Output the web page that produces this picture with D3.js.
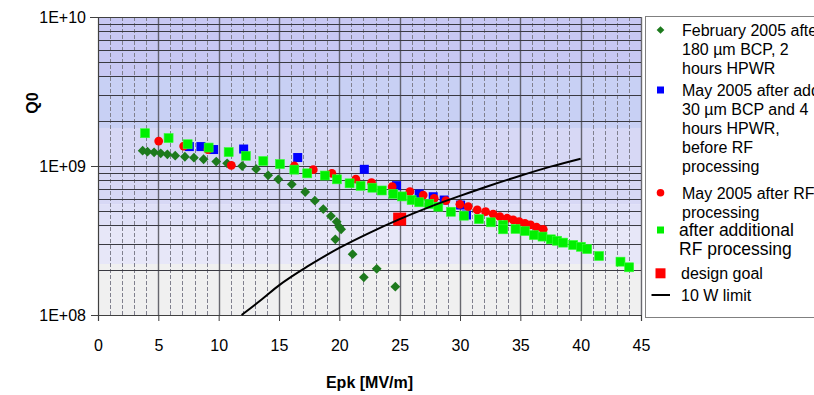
<!DOCTYPE html>
<html><head><meta charset="utf-8">
<script src="https://cdn.jsdelivr.net/npm/d3@7"></script>
<style>
html,body{margin:0;padding:0;background:#fff;}
svg{display:block;font-family:"Liberation Sans",Arial,sans-serif;}
</style></head>
<body>
<svg id="chart" width="814" height="395"></svg>
<script>
// ---------- data ----------
const xTicks = [0,5,10,15,20,25,30,35,40,45];
const yTicks = [1e8,1e9,1e10];
const yTickLabels = ["1E+08","1E+09","1E+10"];
const xTitle = "Epk [MV/m]";
const yTitle = "Q0";

// February 2005 after 180 µm BCP, 2 hours HPWR  [Epk, Q0]
const feb2005 = [[3.7,1.267e9],[4.1,1.247e9],[4.65,1.236e9],[5.2,1.217e9],[5.75,1.198e9],[6.4,1.173e9],[7.2,1.154e9],[7.95,1.137e9],[8.75,1.11e9],[9.8,1.07e9],[10.7,1.043e9],[11.95,1.0e9],[13.1,9.55e8],[14.1,8.66e8],[14.94,8.14e8],[16.06,7.53e8],[17.17,6.69e8],[17.97,5.85e8],[18.67,5.14e8],[19.3,4.61e8],[19.78,4.22e8],[20.0,3.9e8],[20.15,3.76e8],[19.67,3.22e8],[21.1,2.56e8],[22.03,1.79e8],[23.1,2.04e8],[24.64,1.55e8]];
// May 2005 after add. 30 µm BCP and 4 hours HPWR, before RF processing
const mayBefore = [[7.57,1.35e9],[8.53,1.35e9],[9.58,1.29e9],[12.07,1.3e9],[16.55,1.14e9],[22.07,9.5e8],[24.74,7.38e8],[26.62,6.49e8],[27.78,6.22e8],[28.69,5.91e8],[30.05,5.47e8],[30.54,4.69e8]];
// May 2005 after RF processing
const mayAfter = [[5.03,1.47e9],[7.1,1.36e9],[9.11,1.29e9],[11.05,1.01e9],[16.27,1.0e9],[17.84,9.45e8],[19.38,8.93e8],[21.37,8.16e8],[22.67,7.73e8],[24.38,7.27e8],[25.85,6.73e8],[26.95,6.38e8],[27.86,6.07e8],[28.83,5.85e8],[29.99,5.53e8],[30.68,5.33e8],[31.43,5.07e8],[32.12,4.94e8],[32.75,4.76e8],[33.3,4.57e8],[33.91,4.46e8],[34.41,4.35e8],[34.9,4.23e8],[35.38,4.12e8],[35.85,4.02e8],[36.35,3.88e8],[36.9,3.76e8]];
// after additional RF processing
const additionalRF = [[3.9,1.66e9],[5.85,1.54e9],[7.43,1.40e9],[9.17,1.33e9],[10.83,1.24e9],[12.26,1.17e9],[13.7,1.08e9],[15.08,1.03e9],[16.27,9.45e8],[17.34,8.93e8],[18.8,8.63e8],[19.8,8.14e8],[20.85,7.65e8],[21.76,7.36e8],[22.74,7.15e8],[23.52,6.85e8],[24.47,6.49e8],[25.2,6.25e8],[25.99,5.91e8],[26.62,5.71e8],[27.45,5.56e8],[28.2,5.33e8],[29.25,4.93e8],[30.32,4.64e8],[31.57,4.4e8],[32.56,4.19e8],[33.58,4.02e8],[33.58,3.76e8],[34.6,3.78e8],[35.38,3.66e8],[36.12,3.44e8],[36.84,3.36e8],[37.53,3.22e8],[38.05,3.15e8],[38.55,3.06e8],[39.38,2.95e8],[40.02,2.87e8],[40.54,2.77e8],[41.53,2.49e8],[43.3,2.28e8],[44.02,2.09e8]];
// design goal
const designGoal = [[25,4.4e8]];
// 10 W limit
const tenWLimit = [[11.9,1.0e8],[13.56,1.27e8],[15,1.58e8],[17.5,2.15e8],[20,2.82e8],[22.5,3.56e8],[25,4.4e8],[27.5,5.32e8],[30,6.3e8],[32.5,7.4e8],[35,8.6e8],[37.5,9.9e8],[40,1.12e9]];

const legendLabels = [
  ["February 2005 after","180 µm BCP, 2","hours HPWR"],
  ["May 2005 after additional","30 µm BCP and 4","hours HPWR,","before RF","processing"],
  ["May 2005 after RF","processing"],
  ["after additional","RF processing"],
  ["design goal"],
  ["10 W limit"]
];

// ---------- layout / style ----------
const svg = d3.select("#chart");
const x = d3.scaleLinear().domain([0,45]).range([98,641]);
const y = d3.scaleLog().domain([1e8,1e10]).range([315,17]);
const X0 = x.range()[0], X1 = x.range()[1], Y0 = y.range()[0], Y1 = y.range()[1];

// background bands (plot-area gradient)
const bandEdges = [1e10,4e9,1.8e9,5.5e8,3.9e8,2.2e8,1e8];
const bandColors = ["#c8c8f3","#c8d0f4","#d7d8f5","#dfe0f7","#e7e7f8","#f0f0f0"];
const bg = svg.append("g");
for (let i=0;i<bandColors.length;i++){
  bg.append("rect").attr("x",X0).attr("width",X1-X0)
    .attr("y",y(bandEdges[i])).attr("height",y(bandEdges[i+1])-y(bandEdges[i]))
    .attr("fill",bandColors[i]);
}

// grid lines
const grid = svg.append("g");
const minorX = d3.range(1,45).filter(v=>v%5!==0);
grid.selectAll(".vmin").data(minorX).join("line")
  .attr("x1",d=>Math.round(x(d))+0.5).attr("x2",d=>Math.round(x(d))+0.5).attr("y1",Y1).attr("y2",Y0)
  .attr("stroke","#80808e").attr("stroke-width",1).attr("stroke-dasharray","4,2");
grid.selectAll(".vmaj").data(xTicks.slice(1)).join("line")
  .attr("x1",d=>Math.round(x(d))+0.5).attr("x2",d=>Math.round(x(d))+0.5).attr("y1",Y1).attr("y2",Y0)
  .attr("stroke","#505058").attr("stroke-width",1.4).attr("opacity",0.85);
const yGrid = y.ticks().filter(v=>v>1e8);
grid.selectAll(".h").data(yGrid).join("line")
  .attr("x1",X0).attr("x2",X1).attr("y1",d=>Math.round(y(d))+0.5).attr("y2",d=>Math.round(y(d))+0.5)
  .attr("stroke","#3a3a42").attr("stroke-width",1);

// axes
const xAxis = svg.append("g").attr("transform",`translate(0,${Y0})`)
  .call(d3.axisBottom(x).tickValues(xTicks).tickSize(6).tickPadding(19).tickFormat(d3.format("d")));
const yAxis = svg.append("g").attr("transform",`translate(${X0},0)`)
  .call(d3.axisLeft(y).tickValues(yTicks).tickSize(7).tickPadding(5).tickFormat((d,i)=>yTickLabels[i]));
[xAxis,yAxis].forEach(a=>{
  a.select(".domain").attr("stroke","#404040").attr("stroke-width",1.2);
  a.selectAll(".tick line").attr("stroke","#404040");
  a.selectAll("text").attr("font-size",16).attr("fill","#000").attr("font-family","Liberation Sans, Arial, sans-serif");
});
// top border
svg.append("line").attr("x1",X0-8).attr("x2",X1).attr("y1",Y1+0.5).attr("y2",Y1+0.5).attr("stroke","#404040");

svg.append("text").attr("x",(X0+X1)/2).attr("y",388).attr("text-anchor","middle")
  .attr("font-size",16).attr("font-weight","bold").text(xTitle);
svg.append("text").attr("transform","translate(38,103) rotate(-90)").attr("text-anchor","middle")
  .attr("font-size",16).attr("font-weight","bold").text(yTitle);

// ---------- marks ----------
const marks = svg.append("g");
marks.selectAll(".feb").data(feb2005).join("path")
  .attr("d",d3.symbol().type(d3.symbolSquare).size(48))
  .attr("transform",d=>`translate(${x(d[0])},${y(d[1])}) rotate(45)`)
  .attr("fill","#1d7a1d");
marks.selectAll(".blue").data(mayBefore).join("rect")
  .attr("x",d=>x(d[0])-4.5).attr("y",d=>y(d[1])-4.5).attr("width",9).attr("height",9)
  .attr("fill","#0000ff");
marks.selectAll(".red").data(mayAfter).join("circle")
  .attr("cx",d=>x(d[0])).attr("cy",d=>y(d[1])).attr("r",4.4)
  .attr("fill","#ff0000");
marks.selectAll(".green").data(additionalRF).join("rect")
  .attr("x",d=>x(d[0])-4.5).attr("y",d=>y(d[1])-4.5).attr("width",9).attr("height",9)
  .attr("fill","#00f000").attr("stroke","#33ff33").attr("stroke-width",0.6);
marks.selectAll(".goal").data(designGoal).join("rect")
  .attr("x",d=>x(d[0])-6.5).attr("y",d=>y(d[1])-6.5).attr("width",13).attr("height",13)
  .attr("fill","#ff0000");
marks.append("path").datum(tenWLimit)
  .attr("d",d3.line().x(d=>x(d[0])).y(d=>y(d[1])).curve(d3.curveMonotoneX))
  .attr("fill","none").attr("stroke","#000").attr("stroke-width",2);

// ---------- legend ----------
const lg = svg.append("g");
lg.append("rect").attr("x",645.5).attr("y",16.5).attr("width",200).attr("height",301)
  .attr("fill","#fff").attr("stroke","#808080");
const lineH = 19;
const entryY = [30, 90, 192.7, 230, 273.3, 295];
const entrySize = [16,16,16,17.5,16,16];
const entryX = [682,682,682,679,681,681];
legendLabels.forEach((lines,i)=>{
  const t = lg.append("text").attr("x",entryX[i]).attr("y",entryY[i]).attr("font-size",entrySize[i])
    .attr("dominant-baseline","central");
  lines.forEach((s,j)=>{
    t.append("tspan").attr("x",entryX[i]).attr("dy",j===0?0:(i===3?18.5:lineH)).text(s);
  });
});
const mx = 660.5;
lg.append("path").attr("d",d3.symbol().type(d3.symbolSquare).size(30))
  .attr("transform",`translate(${mx},${entryY[0]}) rotate(45)`).attr("fill","#1d7a1d");
lg.append("rect").attr("x",mx-3.5).attr("y",entryY[1]-3.5).attr("width",7).attr("height",7).attr("fill","#0000ff");
lg.append("circle").attr("cx",mx).attr("cy",entryY[2]).attr("r",3.8).attr("fill","#ff0000");
lg.append("rect").attr("x",mx-3.5).attr("y",entryY[3]-3.5).attr("width",7).attr("height",7).attr("fill","#00f000");
lg.append("rect").attr("x",mx-5).attr("y",entryY[4]-5).attr("width",10).attr("height",10).attr("fill","#ff0000");
lg.append("line").attr("x1",651.5).attr("x2",670).attr("y1",entryY[5]).attr("y2",entryY[5]).attr("stroke","#000").attr("stroke-width",2);
</script>
</body></html>
